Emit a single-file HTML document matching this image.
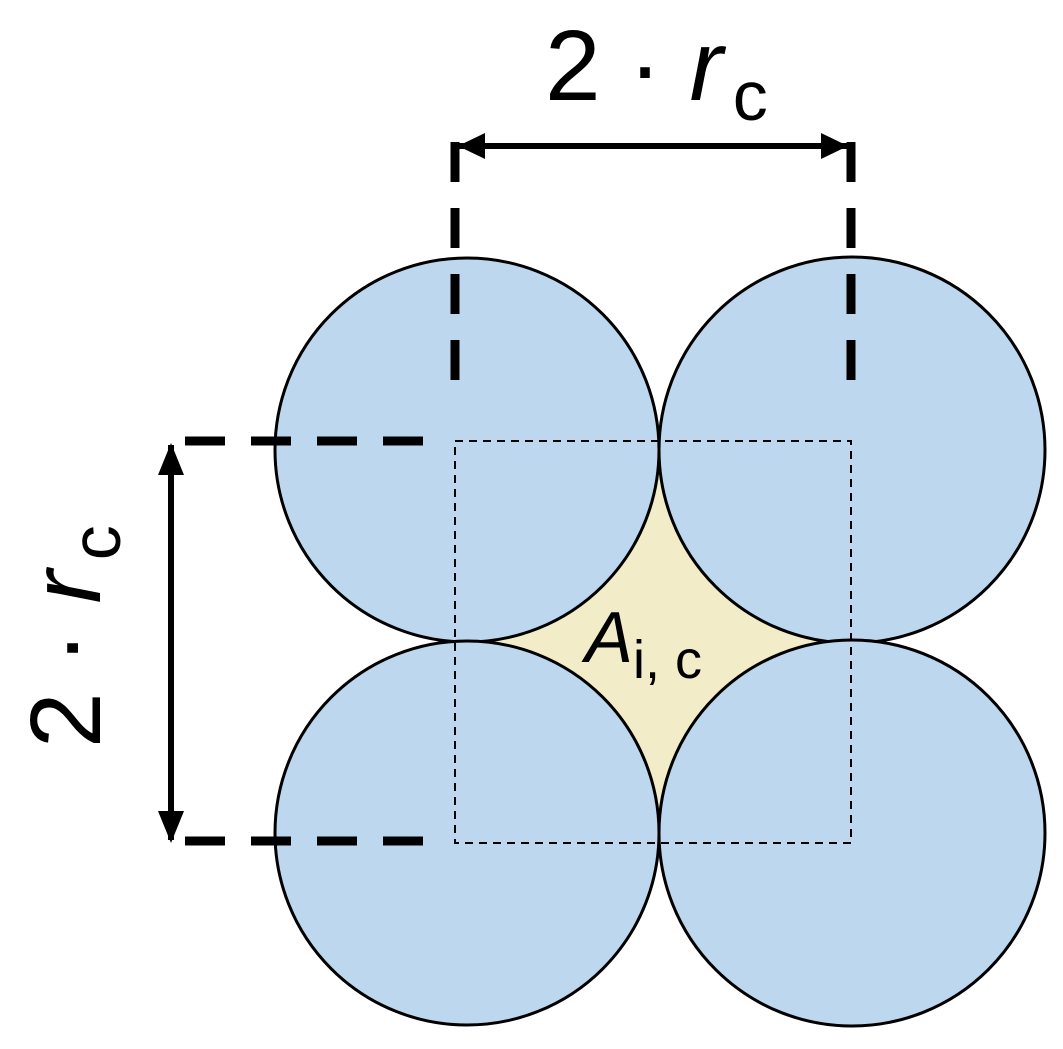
<!DOCTYPE html>
<html><head><style>body{margin:0;background:#fff}</style></head><body>
<svg width="1063" height="1044" viewBox="0 0 1063 1044" xmlns="http://www.w3.org/2000/svg" font-family="Liberation Sans, sans-serif">
<rect x="467" y="450" width="385" height="383" fill="#f3ecc8"/>
<g fill="#bdd7ee" stroke="#000" stroke-width="3">
<circle cx="467" cy="450" r="192"/>
<circle cx="852" cy="450" r="193"/>
<circle cx="467" cy="833" r="192"/>
<circle cx="852" cy="833" r="193"/>
</g>
<rect x="455" y="441" width="396" height="402" fill="none" stroke="#000" stroke-width="2" stroke-dasharray="8,6"/>
<g stroke="#000" stroke-width="9" stroke-dasharray="40,26" fill="none">
<line x1="455" y1="142" x2="455" y2="395"/>
<line x1="851" y1="142" x2="851" y2="395"/>
<line x1="185" y1="441" x2="440" y2="441"/>
<line x1="185" y1="841" x2="440" y2="841"/>
</g>
<line x1="455" y1="146" x2="851" y2="146" stroke="#000" stroke-width="6"/>
<path d="M458,146 L485,133 L485,159 z M848,146 L821,133 L821,159 z" fill="#000"/>
<line x1="171" y1="445" x2="171" y2="840" stroke="#000" stroke-width="6"/>
<path d="M171,443 L158,475 L184,475 z M171,843 L158,811 L184,811 z" fill="#000"/>
<text x="545" y="100" font-size="100">2 · <tspan font-style="italic">r</tspan><tspan font-size="70" dx="10" dy="20">c</tspan></text>
<text transform="translate(100,748) rotate(-90)" font-size="100">2 · <tspan font-style="italic">r</tspan><tspan font-size="70" dx="10" dy="20">c</tspan></text>
<text x="585" y="662" font-size="72" font-style="italic">A<tspan font-style="normal" font-size="54" dy="16">i, c</tspan></text>
</svg>
</body></html>
